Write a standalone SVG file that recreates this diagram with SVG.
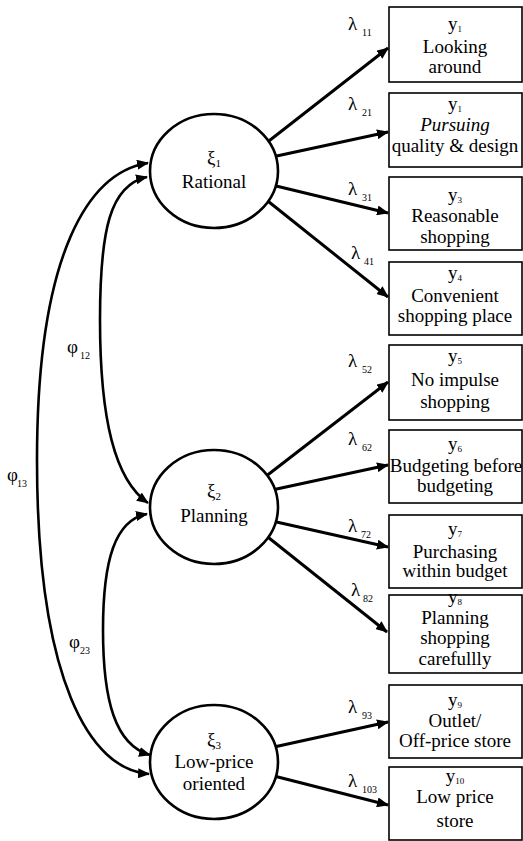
<svg xmlns="http://www.w3.org/2000/svg" width="523" height="841" viewBox="0 0 523 841" font-family="'Liberation Serif', 'Times New Roman', serif">
<style>
text{font-family:'Liberation Serif','Times New Roman',serif;fill:#000}
.t{font-size:19px;text-anchor:middle}
.g{font-size:19px}
.s{font-size:10px}
.sy{font-size:9px}
.sn{font-size:11px}
.box{fill:#fff;stroke:#000;stroke-width:1.6}
.lat{fill:#fff;stroke:#000;stroke-width:2.6}
.ln{fill:none;stroke:#000;stroke-width:3;marker-end:url(#ah)}
.cv{fill:none;stroke:#000;stroke-width:2.6;marker-end:url(#ah);marker-start:url(#ah)}
</style>
<defs>
<marker id="ah" markerWidth="12" markerHeight="10" refX="11" refY="5" orient="auto-start-reverse" markerUnits="userSpaceOnUse"><path d="M0,0 L12,5 L0,10 z" fill="#000"/></marker>
</defs>
<g id="connectors">
<path class="ln" d="M265,144 L388,48"/>
<path class="ln" d="M272,157 L388,132"/>
<path class="ln" d="M272,185 L388,213"/>
<path class="ln" d="M264,198 L388,297"/>
<path class="ln" d="M265,477 L388,382"/>
<path class="ln" d="M272,490 L388,465"/>
<path class="ln" d="M272,521 L388,547"/>
<path class="ln" d="M264,534 L387,632"/>
<path class="ln" d="M274,747 L388,722"/>
<path class="ln" d="M274,776 L388,805"/>
<path class="cv" d="M148,163 C90,172 37,250 37,460 C37,680 90,770 149,774"/>
<path class="cv" d="M147,177 C110,185 100,230 100,320 C100,420 115,480 148,503"/>
<path class="cv" d="M147,514 C115,520 103,560 103,630 C103,700 115,745 150,755"/>
</g>
<g id="labels">
<text class="g" x="7" y="481">φ</text><text class="s" x="17" y="487">13</text>
<text class="g" x="67" y="353">φ</text><text class="s" x="80" y="359">12</text>
<text class="g" x="69" y="648">φ</text><text class="s" x="80" y="654">23</text>
<text class="g" x="348" y="30">λ</text><text class="s" x="362" y="36">11</text>
<text class="g" x="348" y="110">λ</text><text class="s" x="362" y="116">21</text>
<text class="g" x="348" y="195">λ</text><text class="s" x="362" y="201">31</text>
<text class="g" x="351" y="259">λ</text><text class="s" x="364" y="265">41</text>
<text class="g" x="348" y="367">λ</text><text class="s" x="362" y="373">52</text>
<text class="g" x="348" y="445">λ</text><text class="s" x="362" y="451">62</text>
<text class="g" x="348" y="532">λ</text><text class="s" x="361" y="538">72</text>
<text class="g" x="351" y="596">λ</text><text class="s" x="363" y="602">82</text>
<text class="g" x="348" y="713">λ</text><text class="s" x="362" y="719">93</text>
<text class="g" x="348" y="787">λ</text><text class="s" x="362" y="793">103</text>
</g>
<g id="xi1"><ellipse class="lat" cx="214" cy="171" rx="64" ry="57"/><text class="t" x="214" y="164" font-size="17">ξ<tspan class="sn" dy="3">1</tspan></text><text class="t" x="214" y="188">Rational</text></g>
<g id="xi2"><ellipse class="lat" cx="214" cy="507" rx="64" ry="57"/><text class="t" x="214" y="497" font-size="17">ξ<tspan class="sn" dy="3">2</tspan></text><text class="t" x="214" y="522">Planning</text></g>
<g id="xi3"><ellipse class="lat" cx="214" cy="762" rx="64" ry="57"/><text class="t" x="214" y="746" font-size="17">ξ<tspan class="sn" dy="3">3</tspan></text><text class="t" x="214" y="768">Low-price</text><text class="t" x="214" y="790">oriented</text></g>
<g id="y1"><rect class="box" x="389" y="7" width="133" height="75"/><text class="t" x="455" y="30">y<tspan class="sy" dy="2">1</tspan></text><text class="t" x="455" y="53">Looking</text><text class="t" x="455" y="73">around</text></g>
<g id="y2"><rect class="box" x="389" y="93" width="133" height="74"/><text class="t" x="455" y="110">y<tspan class="sy" dy="2">1</tspan></text><text class="t" x="455" y="131" font-style="italic">Pursuing</text><text class="t" x="455" y="152">quality &amp; design</text></g>
<g id="y3"><rect class="box" x="389" y="177" width="133" height="73"/><text class="t" x="455" y="201">y<tspan class="sy" dy="2">3</tspan></text><text class="t" x="455" y="222">Reasonable</text><text class="t" x="455" y="243">shopping</text></g>
<g id="y4"><rect class="box" x="389" y="262" width="133" height="73"/><text class="t" x="455" y="279">y<tspan class="sy" dy="2">4</tspan></text><text class="t" x="455" y="302">Convenient</text><text class="t" x="455" y="322">shopping place</text></g>
<g id="y5"><rect class="box" x="389" y="345" width="133" height="75"/><text class="t" x="455" y="362">y<tspan class="sy" dy="2">5</tspan></text><text class="t" x="455" y="386">No impulse</text><text class="t" x="455" y="408">shopping</text></g>
<g id="y6"><rect class="box" x="389" y="430" width="133" height="73"/><text class="t" x="455" y="450">y<tspan class="sy" dy="2">6</tspan></text><text class="t" x="456" y="472">Budgeting before</text><text class="t" x="455" y="492">budgeting</text></g>
<g id="y7"><rect class="box" x="389" y="515" width="133" height="73"/><text class="t" x="455" y="535">y<tspan class="sy" dy="2">7</tspan></text><text class="t" x="455" y="558">Purchasing</text><text class="t" x="455" y="577">within budget</text></g>
<g id="y8"><rect class="box" x="389" y="595" width="133" height="78"/><text class="t" x="455" y="603">y<tspan class="sy" dy="2">8</tspan></text><text class="t" x="455" y="624">Planning</text><text class="t" x="455" y="644">shopping</text><text class="t" x="455" y="665">carefullly</text></g>
<g id="y9"><rect class="box" x="389" y="685" width="133" height="73"/><text class="t" x="455" y="706">y<tspan class="sy" dy="2">9</tspan></text><text class="t" x="455" y="727">Outlet/</text><text class="t" x="455" y="747">Off-price store</text></g>
<g id="y10"><rect class="box" x="389" y="767" width="133" height="73"/><text class="t" x="455" y="782">y<tspan class="sy" dy="2">10</tspan></text><text class="t" x="455" y="803">Low price</text><text class="t" x="455" y="827">store</text></g>
</svg>
